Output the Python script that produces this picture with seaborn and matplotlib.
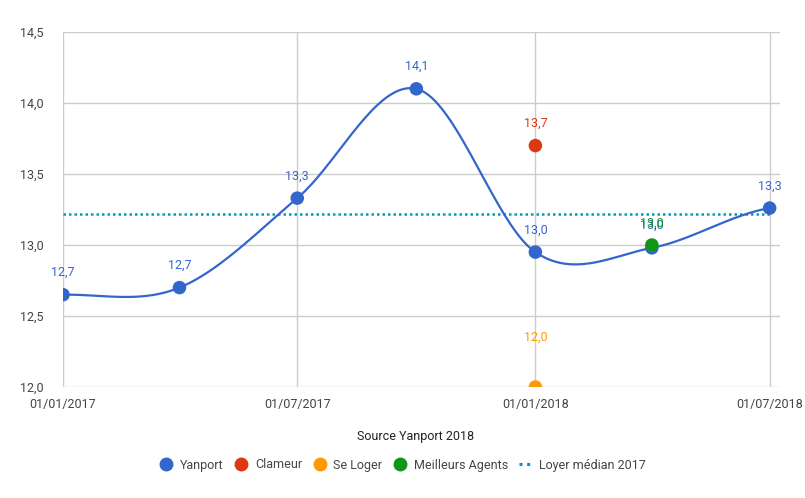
import numpy as np
import pandas as pd
import seaborn as sns
import matplotlib
matplotlib.use("Agg")
import matplotlib.pyplot as plt
import matplotlib.dates as mdates
from matplotlib.lines import Line2D
from matplotlib.ticker import FuncFormatter

# Data
yanport_dates = ["2017-01-01", "2017-04-01", "2017-07-01", "2017-10-01",
                 "2018-01-01", "2018-04-01", "2018-07-01"]
yanport_vals = [12.65, 12.70, 13.33, 14.10, 12.95, 12.98, 13.26]
yanport_labels = ["12,7", "12,7", "13,3", "14,1", "13,0", "13,0", "13,3"]

clameur_dates = ["2018-01-01"]
clameur_vals = [13.70]
seloger_dates = ["2018-01-01"]
seloger_vals = [12.0]
ma_dates = ["2018-04-01"]
ma_vals = [13.0]

median_dates = ["2017-01-01", "2018-07-01"]
median_vals = [13.22, 13.22]

x_ticks = ["2017-01-01", "2017-07-01", "2018-01-01", "2018-07-01"]
y_ticks = [12.0, 12.5, 13.0, 13.5, 14.0, 14.5]

BLUE, RED, ORANGE, GREEN, TEAL = "#3366cc", "#dc3912", "#ff9900", "#109618", "#0099c6"

sns.set_style("white")
plt.rcParams["font.family"] = ["Roboto", "DejaVu Sans"]

fig = plt.figure(figsize=(8.05, 4.98), dpi=100)
ax = fig.add_axes([63 / 805, 1 - 387 / 498, (780 - 63) / 805, (387 - 32) / 498])


# smooth curve (catmull-rom style) through the yanport points
def smooth(dates, vals, n=40):
    xs = mdates.date2num(pd.to_datetime(dates))
    ys = np.array(vals, dtype=float)
    m = np.zeros_like(ys)
    m[1:-1] = (ys[2:] - ys[:-2]) / 2
    m[0] = (ys[1] - ys[0]) * 0.3
    m[-1] = (ys[-1] - ys[-2]) * 0.5
    out_x, out_y = [], []
    for i in range(len(xs) - 1):
        t = np.linspace(0, 1, n)
        h00 = 2 * t**3 - 3 * t**2 + 1
        h10 = t**3 - 2 * t**2 + t
        h01 = -2 * t**3 + 3 * t**2
        h11 = t**3 - t**2
        out_x.extend(xs[i] + t * (xs[i + 1] - xs[i]))
        out_y.extend(h00 * ys[i] + h10 * m[i] + h01 * ys[i + 1] + h11 * m[i + 1])
    return mdates.num2date(np.array(out_x)), np.array(out_y)


cx, cy = smooth(yanport_dates, yanport_vals)
curve = pd.DataFrame({"date": pd.to_datetime([d.replace(tzinfo=None) for d in cx]), "val": cy})
sns.lineplot(data=curve, x="date", y="val", sort=False, color=BLUE, linewidth=1.6, ax=ax, zorder=3)

med = pd.DataFrame({"date": pd.to_datetime(median_dates), "val": median_vals})
ax.plot(med["date"], med["val"], color=TEAL, linewidth=1.8, linestyle=(0, (1, 1.2)), zorder=2)

# (dates, values, labels, colour, label offset in points)
series = [
    (yanport_dates, yanport_vals, yanport_labels, BLUE, 16),
    (clameur_dates, clameur_vals, ["13,7"], RED, 16),
    (seloger_dates, seloger_vals, ["12,0"], ORANGE, 36),
    (ma_dates, ma_vals, ["13,0"], GREEN, 16),
]
for dates, vals, labels, col, off in series:
    d = pd.to_datetime(dates)
    sns.scatterplot(x=d, y=vals, color=col, s=95, edgecolor="none", ax=ax, zorder=4, clip_on=True)
    for xi, yi, lab in zip(d, vals, labels):
        ax.annotate(lab, (xi, yi), xytext=(0, off), textcoords="offset points",
                    ha="center", va="center", color=col, fontsize=9)

ax.set_xlim(pd.Timestamp("2017-01-01"), pd.Timestamp("2018-07-09"))
ax.set_ylim(12.0, 14.5)
ax.set_xticks(pd.to_datetime(x_ticks))
ax.xaxis.set_major_formatter(mdates.DateFormatter("%d/%m/%Y"))
ax.set_yticks(y_ticks)
ax.yaxis.set_major_formatter(FuncFormatter(lambda v, p: f"{v:.1f}".replace(".", ",")))
ax.grid(True, color="#cccccc", linewidth=1)
ax.set_axisbelow(True)
for s in ax.spines.values():
    s.set_visible(False)
ax.tick_params(axis="both", length=0, labelsize=9, labelcolor="#444444")
ax.tick_params(axis="y", pad=14)
ax.tick_params(axis="x", pad=8)
ax.set_xlabel("Source Yanport 2018", fontsize=9, color="#222222")
ax.xaxis.set_label_coords((416 - 63) / (780 - 63), -0.12)
ax.set_ylabel("")

handles = [
    Line2D([], [], marker="o", linestyle="none", color=BLUE, markersize=9),
    Line2D([], [], marker="o", linestyle="none", color=RED, markersize=9),
    Line2D([], [], marker="o", linestyle="none", color=ORANGE, markersize=9),
    Line2D([], [], marker="o", linestyle="none", color=GREEN, markersize=9),
    Line2D([], [], color=TEAL, linewidth=2.2, linestyle=(0, (1, 1.5))),
]
names = ["Yanport", "Clameur", "Se Loger", "Meilleurs Agents", "Loyer médian 2017"]
leg = fig.legend(handles, names, loc="center", bbox_to_anchor=(403 / 805, 1 - 465 / 498), ncol=5,
                 frameon=False, fontsize=9, handlelength=1.0, handletextpad=0.6, columnspacing=0.9)
for t in leg.get_texts():
    t.set_color("#444444")

fig.savefig("out.png", dpi=100)
